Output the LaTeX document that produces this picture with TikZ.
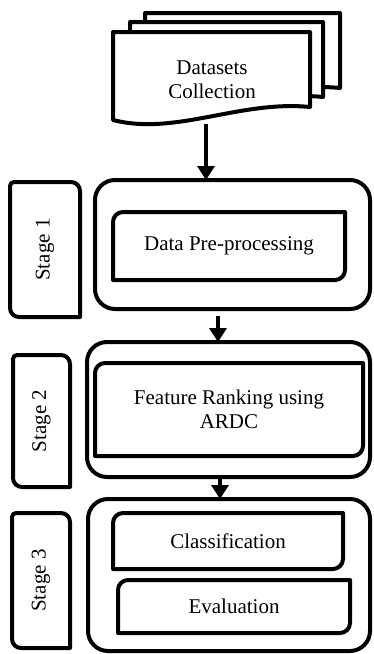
\documentclass[tikz,border=0pt]{standalone}
\usepackage{fontspec}
\setmainfont{Liberation Serif}
\usetikzlibrary{arrows.meta,calc}
\tikzset{
  box/.style={line width=4pt, line join=round},
  outerbox/.style={box, draw, rounded corners=20pt, inner sep=0pt, outer sep=0pt},
  plain/.style={inner sep=0pt, outer sep=0pt, align=center},
  arr/.style={line width=4pt, -{Triangle[width=17pt,length=14pt]}},
}
\newcommand\cornerbox[5]{%
  \draw[box] let \p1=(#1.north west), \p2=(#1.south east) in
   ({\x1},{\y1-#2}) arc[start angle=180,end angle=90,radius=#2]
   -- ({\x2-#3},{\y1}) arc[start angle=90,end angle=0,radius=#3]
   -- ({\x2},{\y2+#4}) arc[start angle=0,end angle=-90,radius=#4]
   -- ({\x1+#5},{\y2}) arc[start angle=270,end angle=180,radius=#5]
   -- cycle;}
\newcommand\docshape[3]{%
  \filldraw[box, fill=white] (#1,#2+88) -- (#1,#2) -- (#3,#2) -- (#3,#2+75)
   .. controls (#1+127,#2+68) and (#1+62,#2+104) .. (#1,#2+88) -- cycle;}
\begin{document}
\begin{tikzpicture}[x=1pt,y=-1pt,font=\fontsize{21}{24}\selectfont]
\useasboundingbox (0,0) rectangle (373,654);
% documents
\docshape{145}{13}{340}
\docshape{130}{22}{323}
\docshape{113}{32}{310}
\node[plain] (docs) at (212,80) {Datasets\\Collection};
\coordinate (dbot) at (206,124);
% outer stage boxes
\node[outerbox, minimum width=275pt, minimum height=129pt] (s1out) at (232.5,244.5) {};
\node[outerbox, minimum width=283pt, minimum height=135pt] (s2out) at (228.5,409.5) {};
\node[outerbox, minimum width=282pt, minimum height=152pt] (s3out) at (229,575) {};
% inner boxes
\node[plain, minimum width=232pt, minimum height=68pt] (pre) at (229,246) {Data Pre-processing};
\cornerbox{pre}{10pt}{0.01pt}{10pt}{0.01pt}
\node[plain, minimum width=268pt, minimum height=93pt] (rank) at (229,409.5) {Feature Ranking using\\ARDC};
\cornerbox{rank}{10pt}{0.01pt}{10pt}{0.01pt}
\node[plain, minimum width=230pt, minimum height=56pt] (cls) at (228,541) {Classification};
\cornerbox{cls}{10pt}{0.01pt}{10pt}{0.01pt}
\node[plain, minimum width=232pt, minimum height=53pt] (eval) at (234,606.5) {Evaluation};
\cornerbox{eval}{10pt}{0.01pt}{10pt}{0.01pt}
% stage labels
\node[plain, minimum width=70pt, minimum height=135pt] (st1) at (45,249.5) {};
\node[rotate=90] at (st1.center) {Stage 1};
\cornerbox{st1}{4pt}{9pt}{0.01pt}{9pt}
\node[plain, minimum width=57pt, minimum height=132pt] (st2) at (41.5,421) {};
\node[rotate=90] at (st2.center) {Stage 2};
\cornerbox{st2}{4pt}{9pt}{0.01pt}{9pt}
\node[plain, minimum width=58pt, minimum height=135pt] (st3) at (41,580.5) {};
\node[rotate=90] at (st3.center) {Stage 3};
\cornerbox{st3}{4pt}{9pt}{0.01pt}{9pt}
% arrows
\coordinate (a2) at (218,316);
\coordinate (a3) at (220,0);
\draw[arr] (dbot) -- (s1out.north -| dbot);
\draw[arr] (a2) -- (s2out.north -| a2);
\draw[arr] (s2out.south -| a3) -- (s3out.north -| a3);
\end{tikzpicture}
\end{document}
